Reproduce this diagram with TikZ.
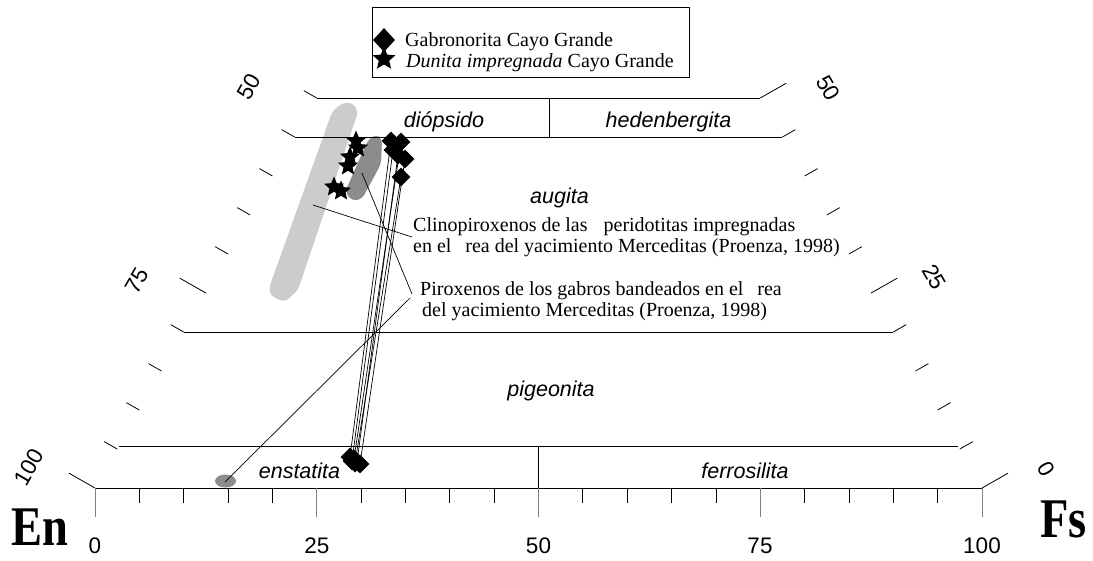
\documentclass[tikz,border=0pt]{standalone}
\usepackage{fontspec}
\setmainfont{Liberation Serif}
\setsansfont{Liberation Sans}
\usetikzlibrary{shapes.geometric}
\definecolor{lgray}{RGB}{204,204,204}
\definecolor{dgray}{RGB}{140,140,140}
\definecolor{tickgray}{RGB}{128,128,128}
\newcommand\annfont{\fontsize{20}{22}\selectfont}
\newcommand\regfont{\sffamily\itshape\fontsize{21.5}{24}\selectfont}
\newcommand\numfont{\sffamily\fontsize{22.5}{24}\selectfont}
\newcommand\bigfont{\bfseries\fontsize{56}{60}\selectfont}
\begin{document}
\begin{tikzpicture}[x=1pt,y=-1pt,
  ln/.style={line width=0.8pt, black},
  tk/.style={line width=0.8pt, black},
  diam/.style={diamond, fill=black, inner sep=0pt, minimum size=19pt},
  starm/.style={star, star points=5, star point ratio=2.2, fill=black, inner sep=0pt, minimum size=21pt},
  region/.style={font=\regfont, anchor=base, inner sep=0pt},
  num/.style={font=\numfont, inner sep=0pt},
  ann/.style={font=\annfont, anchor=base west, inner sep=0pt},
  leader/.style={line width=0.7pt, black},
  tie/.style={line width=0.7pt, black}]
\useasboundingbox (0,0) rectangle (1093,560);
\fill[white] (0,0) rectangle (1093,560);

% shaded fields
\fill[lgray, rounded corners=4pt] (332,112) -- (342,103) -- (353,103) -- (358,112) -- (298,290) -- (285,302) -- (271,296) -- (269,288) -- cycle;
\fill[dgray, rounded corners=5pt] (368,140) -- (376,134) -- (382,139) -- (381,164) -- (362,199) -- (352,201) -- (345,192) -- cycle;
\fill[dgray] (225.5,481) ellipse (10.5 and 6.5);

% frame lines
\draw[ln] (95,488) -- (982,488);
\draw[ln] (119,446) -- (958,446);
\draw[ln] (183.7,332) -- (893.3,332);
\draw[ln] (294.6,137) -- (782.4,137);
\draw[ln] (316.8,98) -- (760.2,98);
\draw[ln] (549,98) -- (549,137);
\draw[ln] (538.5,446) -- (538.5,488);

% side ticks
\foreach \w in {5,10,15,20,30,35,40,45,50}
  \draw[tk] ({95+4.435*\w},{488-7.8*\w}) -- ++(-13,-7.4);
\foreach \w in {0,25}
  \draw[tk] ({95+4.435*\w},{488-7.8*\w}) -- ++(-26,-14.8);
\foreach \w in {5,10,15,20,30,35,40,45}
  \draw[tk] ({982-4.435*\w},{488-7.8*\w}) -- ++(13,-7.4);
\foreach \w in {0,25,50}
  \draw[tk] ({982-4.435*\w},{488-7.8*\w}) -- ++(26,-14.8);
% base ticks
\foreach \i in {1,2,3,4,6,7,8,9,11,12,13,14,16,17,18,19}
  \draw[tk] ({95+44.35*\i},488) -- ++(0,15);
\foreach \i in {0,5,10,15,20}
  \draw[tk, tickgray] ({95+44.35*\i},488) -- ++(0,29);

% axis numbers
\node[num, anchor=base] (b0) at (95,553) {0};
\node[num, anchor=base] (b25) at (317,553) {25};
\node[num, anchor=base] (b50) at (538.5,553) {50};
\node[num, anchor=base] (b75) at (760,553) {75};
\node[num, anchor=base] (b100) at (982,553) {100};
\node[num, rotate=60] (l100) at (29,467) {100};
\node[num, rotate=60] (l75) at (137,281) {75};
\node[num, rotate=60] (l50) at (249,87) {50};
\node[num, rotate=-60] (r50) at (828,88) {50};
\node[num, rotate=-60] (r25) at (934,277) {25};
\node[num, rotate=-60] (r0) at (1046,469) {0};
\node[font=\bigfont, anchor=base, xscale=0.83, inner sep=0pt] (en) at (40,545) {En};
\node[font=\bigfont, anchor=base, xscale=0.83, inner sep=0pt] (fs) at (1063.5,537) {Fs};

% region names
\node[region] (dio) at (444,127) {diópsido};
\node[region] (hed) at (668.5,127) {hedenbergita};
\node[region] (aug) at (559.5,203) {augita};
\node[region] (pig) at (551,396) {pigeonita};
\node[region] (ens) at (299.5,478) {enstatita};
\node[region] (fer) at (745,478) {ferrosilita};

% tie lines (gabbronorite)
\coordinate (u1) at (391,141); \coordinate (l1) at (350,457);
\coordinate (u2) at (401,142); \coordinate (l2) at (354,459);
\coordinate (u3) at (393,150); \coordinate (l3) at (352,461);
\coordinate (u4) at (398,155); \coordinate (l4) at (357,462);
\coordinate (u5) at (405,159); \coordinate (l5) at (360,464);
\coordinate (u6) at (401,177); \coordinate (l6) at (355,463);
\foreach \k in {1,...,6} \draw[tie] (u\k) -- (l\k);

% leaders
\coordinate (cpxA) at (313,205);
\coordinate (cpxB) at (412,237);
\coordinate (gabA) at (362,173);
\coordinate (gabB) at (412,294);
\coordinate (gabC) at (410,298);
\coordinate (blob) at (225,482);
\draw[leader] (cpxA) -- (cpxB);
\draw[leader] (gabA) -- (gabB);
\draw[leader] (gabC) -- (blob);

% markers
\foreach \k in {1,...,6} {
  \node[diam] (mu\k) at (u\k) {};
  \node[diam] (ml\k) at (l\k) {};
}
\node[starm] (s1) at (356,141) {};
\node[starm] (s2) at (358,148) {};
\node[starm] (s3) at (350,157) {};
\node[starm] (s4) at (348,166) {};
\node[starm] (s5) at (334,187) {};
\node[starm] (s6) at (341,191) {};

% annotations
\node[ann] (a1) at (413,231) {Clinopiroxenos de las\hspace{16pt}peridotitas impregnadas};
\node[ann] (a2) at (413,252.7) {en el \phantom{á}rea del yacimiento Merceditas (Proenza, 1998)};
\node[ann] (a3) at (420,295) {Piroxenos de los gabros bandeados en el \phantom{á}rea};
\node[ann] (a4) at (422,316.7) {del yacimiento Merceditas (Proenza, 1998)};

% legend
\node[draw, line width=0.8pt, minimum width=317pt, minimum height=70pt, inner sep=0pt] (legend) at (530.5,42) {};
\node[diam, minimum width=22pt, minimum height=24pt] (legdiam) at (384,40) {};
\node[starm, minimum size=24pt] (legstar) at (384,59) {};
\node[ann] (leg1) at (405,46.5) {Gabronorita Cayo Grande};
\node[ann] (leg2) at (406,67) {\textit{Dunita impregnada} Cayo Grande};
\end{tikzpicture}
\end{document}
